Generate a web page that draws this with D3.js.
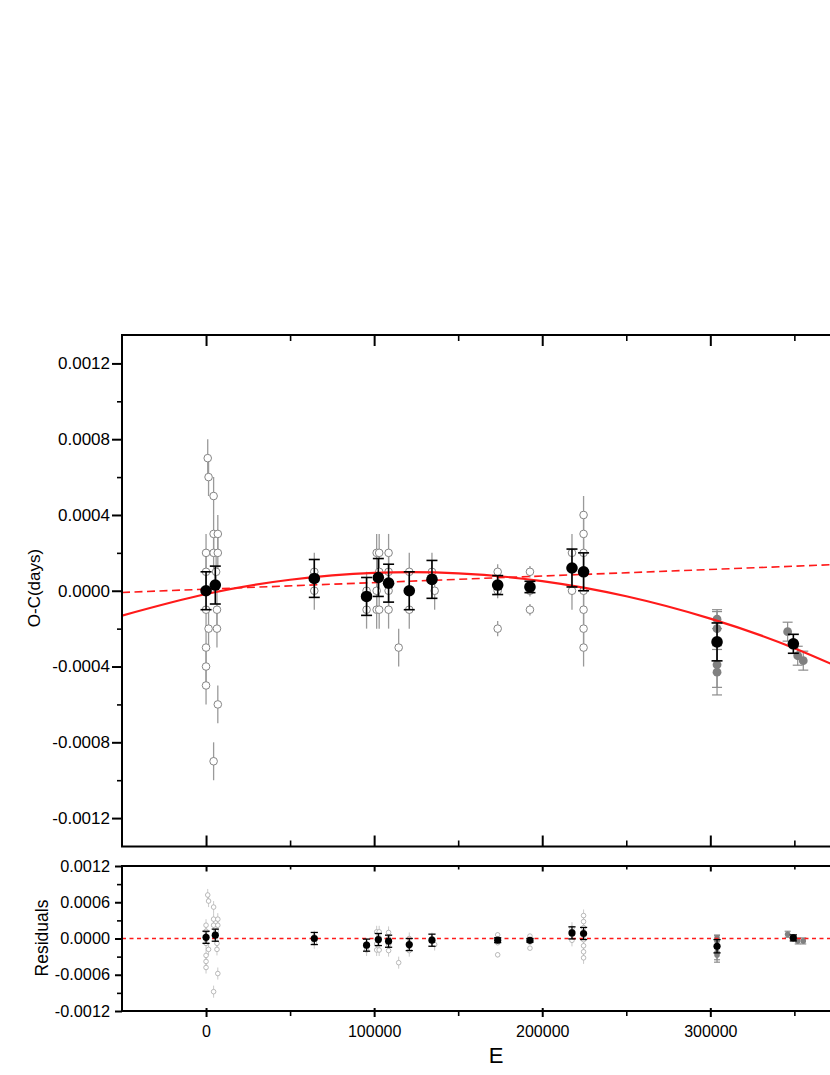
<!DOCTYPE html>
<html><head><meta charset="utf-8">
<script src="https://cdn.jsdelivr.net/npm/d3@7"></script>
<style>body{margin:0;background:#fff;overflow:hidden} svg{display:block} text{font-family:"Liberation Sans",Arial,sans-serif}</style>
</head><body><svg id="c" width="830" height="1075"></svg>
<script>
// ---------- DATA ----------
const xTicksMajor = [0, 100000, 200000, 300000];
const xTicksMinor = [50000, 150000, 250000, 350000];
const topYTicks = [-0.0012, -0.0008, -0.0004, 0, 0.0004, 0.0008, 0.0012];
const topYMinor = [-0.001, -0.0006, -0.0002, 0.0002, 0.0006, 0.001];
const botYTicks = [-0.0012, -0.0006, 0, 0.0006, 0.0012];
const botYMinor = [-0.0009, -0.0003, 0.0003, 0.0009];

// open (individual) minima
const openE = [1000,1500,4500,4500,7000,0,4500,7000,0,6000,0,6500,1500,6500,0,0,0,7000,4500,
  64400,64400,
  95500,95500,
  101500,101500,101500,103000,103000,103000,
  108600,108600,108600,108600,
  114600,
  120900,120900,
  134400,136000,
  173500,173500,173500,
  192700,192700,192700,
  217700,217700,
  224600,224600,224600,224600,224600,224600,224600,224600];
const openOC = [0.0007,0.0006,0.0005,0.0003,0.0003,0.0002,0.0002,0.0002,0.0001,0.0001,-0.0001,-0.0001,-0.0002,-0.0002,-0.0003,-0.0004,-0.0005,-0.0006,-0.0009,
  0.0001,0.0,
  0.0,-0.0001,
  0.0002,0.0,-0.0001,0.0002,0.0001,-0.0001,
  0.0002,0.0001,0.0,-0.0001,
  -0.0003,
  0.0001,-0.0001,
  0.0001,0.0,
  0.0001,0.0,-0.0002,
  0.0001,0.0,-0.0001,
  0.0002,0.0,
  0.0004,0.0003,0.0002,0.0001,0.0,-0.0001,-0.0002,-0.0003];
const openErr = [0.0001,0.0001,0.0001,0.0001,0.0001,0.0001,0.0001,0.0001,0.0001,0.0001,0.0001,0.0001,0.0001,0.0001,0.0001,0.0001,0.0001,0.0001,0.0001,
  0.0001,0.0001,
  0.0001,0.0001,
  0.0001,0.0001,0.0001,0.0001,0.0001,0.0001,
  0.0001,0.0001,0.0001,0.0001,
  0.0001,
  0.0001,0.0001,
  0.0001,0.0001,
  0.00004,0.00004,0.00004,
  0.00003,0.00003,0.00003,
  0.0001,0.0001,
  0.0001,0.0001,0.0001,0.0001,0.0001,0.0001,0.0001,0.0001];
const resOpen = [0.00072,0.00062,0.00052,0.00032,0.00032,0.00022,0.00022,0.00022,0.00012,0.00012,-0.00008,-0.00008,-0.00018,-0.00018,-0.00028,-0.00038,-0.00048,-0.00058,-0.00088,
  0.00003,-0.00007,
  -0.00009,-0.00019,
  0.00011,-0.00009,-0.00019,0.00011,0.00001,-0.00019,
  0.0001,0.0,-0.0001,-0.0002,
  -0.0004,
  0.0,-0.0002,
  0.0,-0.0001,
  0.00006,-0.00007,-0.00027,
  0.00004,-0.00006,-0.00016,
  0.00017,-0.00003,
  0.00038,0.00028,0.00018,0.00008,-0.00002,-0.00012,-0.00022,-0.00032];

// mean (black) minima
const meanE   = [0,5500,64400,95500,102500,108600,120900,134400,173500,192700,217700,224600,304000,349400];
const meanOC  = [0.0,0.00003,0.000065,-0.00003,0.00007,0.00004,0.0,0.00006,0.00003,0.00002,0.00012,0.0001,-0.00027,-0.00028];
const meanErr = [0.0001,0.0001,0.0001,0.0001,0.0001,0.0001,0.0001,0.0001,0.00005,0.00003,0.0001,0.0001,0.0001,0.00005];
const resMean = [0.00002,0.000055,0.0,-0.00011,-0.000017,-0.000045,-0.0001,-0.000028,-0.000028,-0.00003,0.000093,0.000083,-0.000128,0.00001];
const resMeanErr = [0.0001,0.0001,0.0001,0.0001,0.0001,0.0001,0.0001,0.0001,0.00004,0.00003,0.0001,0.0001,0.00011,0.00005];

// gray filled minima
const grayE   = [304000,304000,304000,304000,346000,352000,355300];
const grayOC  = [-0.00015,-0.0002,-0.00039,-0.00043,-0.000216,-0.000343,-0.000369];
const grayErr = [0.00005,0.00009,0.00012,0.00012,0.00005,0.00005,0.00005];
const resGray = [0.000008,-0.000042,-0.000232,-0.000272,0.00007,-0.00004,-0.00004];

// fitted curves
const fitE  = [-50000,0,50000,100000,150000,200000,250000,300000,350000,400000];
const fitOC = [-0.000131,-0.000017,0.000058,0.000094,0.000092,0.000051,-0.000029,-0.000147,-0.000303,-0.000499];
const linE  = [-50000,400000];
const linOC = [-0.0000089,0.000147];
const zeroE = [-50000,400000];
const zeroR = [0,0];

// ---------- DRAWING ----------
const svg = d3.select('#c');
const X0 = 122, X1 = 870;
const x  = d3.scaleLinear().domain([-50000,395000]).range([X0,X1]);
const yT = d3.scaleLinear().domain([-0.00135,0.00135]).range([846.5,335]);
const yB = d3.scaleLinear().domain([-0.0012,0.0012]).range([1011,866]);
const fmt = d => d.toFixed(4);
const defs = svg.append('defs');
defs.append('clipPath').attr('id','clipT').append('rect')
  .attr('x',X0).attr('y',yT.range()[1]).attr('width',X1-X0).attr('height',yT.range()[0]-yT.range()[1]);
defs.append('clipPath').attr('id','clipB').append('rect')
  .attr('x',X0).attr('y',yB.range()[1]).attr('width',X1-X0).attr('height',yB.range()[0]-yB.range()[1]);

function styleAxis(g, w, fs){
  g.select('.domain').remove();
  g.selectAll('.tick line').attr('stroke','#000').attr('stroke-width',w);
  g.selectAll('.tick text').attr('fill','#000').style('font-size',fs+'px')
    .style('font-family','"Liberation Sans",Arial,sans-serif');
}

function drawPanel(y, clipId, o){
  const yTop = y.range()[1], yBot = y.range()[0];
  const plot = svg.append('g').attr('clip-path','url(#'+clipId+')');
  // open circles: error lines
  const og = plot.append('g');
  openE.forEach((e,i)=>{
    const v = o.open[i];
    og.append('line').attr('x1',x(e)).attr('x2',x(e))
      .attr('y1',y(v+openErr[i])).attr('y2',y(v-openErr[i]))
      .attr('stroke',o.openBarCol).attr('stroke-width',o.openBarW);
  });
  openE.forEach((e,i)=>{
    og.append('circle').attr('cx',x(e)).attr('cy',y(o.open[i])).attr('r',o.openR)
      .attr('fill','#fff').attr('stroke',o.openCol).attr('stroke-width',o.openSW);
  });
  // gray filled
  const gg = plot.append('g');
  grayE.forEach((e,i)=>{
    const v=o.gray[i], cx=x(e), a=y(v+grayErr[i]), b=y(v-grayErr[i]);
    gg.append('line').attr('x1',cx).attr('x2',cx).attr('y1',a).attr('y2',b).attr('stroke','#8c8c8c').attr('stroke-width',1.2);
    [a,b].forEach(yy=>gg.append('line').attr('x1',cx-o.grayCap).attr('x2',cx+o.grayCap).attr('y1',yy).attr('y2',yy).attr('stroke','#8c8c8c').attr('stroke-width',1.2));
  });
  grayE.forEach((e,i)=>{
    gg.append('circle').attr('cx',x(e)).attr('cy',y(o.gray[i])).attr('r',o.grayR).attr('fill','#808080');
  });
  // red lines
  o.lines(plot);
  // black means
  const bg = plot.append('g');
  meanE.forEach((e,i)=>{
    const v=o.mean[i], er=o.meanErr[i], cx=x(e), a=y(v+er), b=y(v-er);
    bg.append('line').attr('x1',cx).attr('x2',cx).attr('y1',a).attr('y2',b).attr('stroke','#000').attr('stroke-width',o.meanBarW);
    [a,b].forEach(yy=>bg.append('line').attr('x1',cx-o.cap).attr('x2',cx+o.cap).attr('y1',yy).attr('y2',yy).attr('stroke','#000').attr('stroke-width',o.meanBarW));
  });
  meanE.forEach((e,i)=>{
    bg.append('circle').attr('cx',x(e)).attr('cy',y(o.mean[i])).attr('r',o.meanR).attr('fill','#000');
  });
  // axes
  const ga = svg.append('g').attr('transform',`translate(${X0},0)`)
    .call(d3.axisLeft(y).tickValues(o.yTicks).tickFormat(fmt).tickSize(o.yTickL).tickPadding(o.yPad));
  styleAxis(ga, 2, o.yFs);
  const gm = svg.append('g').attr('transform',`translate(${X0},0)`)
    .call(d3.axisLeft(y).tickValues(o.yMinor).tickFormat('').tickSize(5));
  styleAxis(gm, 1.6, o.yFs);
  // x ticks top edge (inward)
  const gt = svg.append('g').attr('transform',`translate(0,${yTop})`)
    .call(d3.axisTop(x).tickValues(xTicksMajor).tickFormat('').tickSize(-o.xTickIn));
  styleAxis(gt, 2, 10);
  const gt2 = svg.append('g').attr('transform',`translate(0,${yTop})`)
    .call(d3.axisTop(x).tickValues(xTicksMinor).tickFormat('').tickSize(-o.xTickInMinor));
  styleAxis(gt2, 1.6, 10);
  // x ticks bottom edge
  if (o.labels){
    const gb = svg.append('g').attr('transform',`translate(0,${yBot})`)
      .call(d3.axisBottom(x).tickValues(xTicksMajor).tickFormat(d=>String(d)).tickSize(6).tickPadding(9));
    styleAxis(gb, 2, 16);
    const gbi = svg.append('g').attr('transform',`translate(0,${yBot})`)
      .call(d3.axisBottom(x).tickValues(xTicksMajor).tickFormat('').tickSize(-3));
    styleAxis(gbi, 2, 16);
    const gbm = svg.append('g').attr('transform',`translate(0,${yBot})`)
      .call(d3.axisBottom(x).tickValues(xTicksMinor).tickFormat('').tickSize(5));
    styleAxis(gbm, 1.6, 16);
  } else {
    const gb = svg.append('g').attr('transform',`translate(0,${yBot})`)
      .call(d3.axisBottom(x).tickValues(xTicksMajor).tickFormat('').tickSize(-o.xTickIn));
    styleAxis(gb, 2, 10);
    const gbm = svg.append('g').attr('transform',`translate(0,${yBot})`)
      .call(d3.axisBottom(x).tickValues(xTicksMinor).tickFormat('').tickSize(-o.xTickInMinor));
    styleAxis(gbm, 1.6, 10);
  }
  // frame
  svg.append('rect').attr('x',X0).attr('y',yTop).attr('width',X1-X0).attr('height',yBot-yTop)
    .attr('fill','none').attr('stroke','#000').attr('stroke-width',2);
}

const lineFit = d3.line().x(d=>x(d[0])).y(d=>yT(d[1])).curve(d3.curveNatural);
const lineLin = d3.line().x(d=>x(d[0])).y(d=>yT(d[1]));
const lineZero = d3.line().x(d=>x(d[0])).y(d=>yB(d[1]));

drawPanel(yT, 'clipT', {
  open: openOC, gray: grayOC, mean: meanOC, meanErr: meanErr,
  openR: 3.8, openCol:'#858585', openSW:1, openBarCol:'#9a9a9a', openBarW:1.3,
  grayR: 4.4, grayCap: 5,
  meanR: 5.8, meanBarW: 1.6, cap: 5.5,
  yTicks: topYTicks, yMinor: topYMinor, yTickL: 10, yPad: 2, yFs: 17,
  xTickIn: 11, xTickInMinor: 6, labels:false,
  lines: g => {
    g.append('path').datum(linE.map((e,i)=>[e,linOC[i]])).attr('d',lineLin)
      .attr('fill','none').attr('stroke','#ff1a1a').attr('stroke-width',1.6).attr('stroke-dasharray','8,4.5');
    g.append('path').datum(fitE.map((e,i)=>[e,fitOC[i]])).attr('d',lineFit)
      .attr('fill','none').attr('stroke','#ff1a1a').attr('stroke-width',2.2);
  }
});

drawPanel(yB, 'clipB', {
  open: resOpen, gray: resGray, mean: resMean, meanErr: resMeanErr,
  openR: 2.3, openCol:'#a8a8a8', openSW:0.8, openBarCol:'#c4c4c4', openBarW:0.9,
  grayR: 2.8, grayCap: 3,
  meanR: 3.6, meanBarW: 1.3, cap: 3.6,
  yTicks: botYTicks, yMinor: botYMinor, yTickL: 7, yPad: 5, yFs: 16.3,
  xTickIn: 5.5, xTickInMinor: 3.5, labels:true,
  lines: g => {
    g.append('path').datum(zeroE.map((e,i)=>[e,zeroR[i]])).attr('d',lineZero)
      .attr('fill','none').attr('stroke','#ff1a1a').attr('stroke-width',1.3).attr('stroke-dasharray','4,3.5');
  }
});

// titles
svg.append('text').attr('transform','translate(40,588) rotate(-90)').attr('text-anchor','middle')
  .style('font-size','17px').attr('fill','#000').text('O-C(days)');
svg.append('text').attr('transform','translate(48,938) rotate(-90)').attr('text-anchor','middle')
  .style('font-size','17.5px').attr('fill','#000').text('Residuals');
svg.append('text').attr('x',496).attr('y',1063).attr('text-anchor','middle')
  .style('font-size','22px').attr('fill','#000').text('E');
</script></body></html>
